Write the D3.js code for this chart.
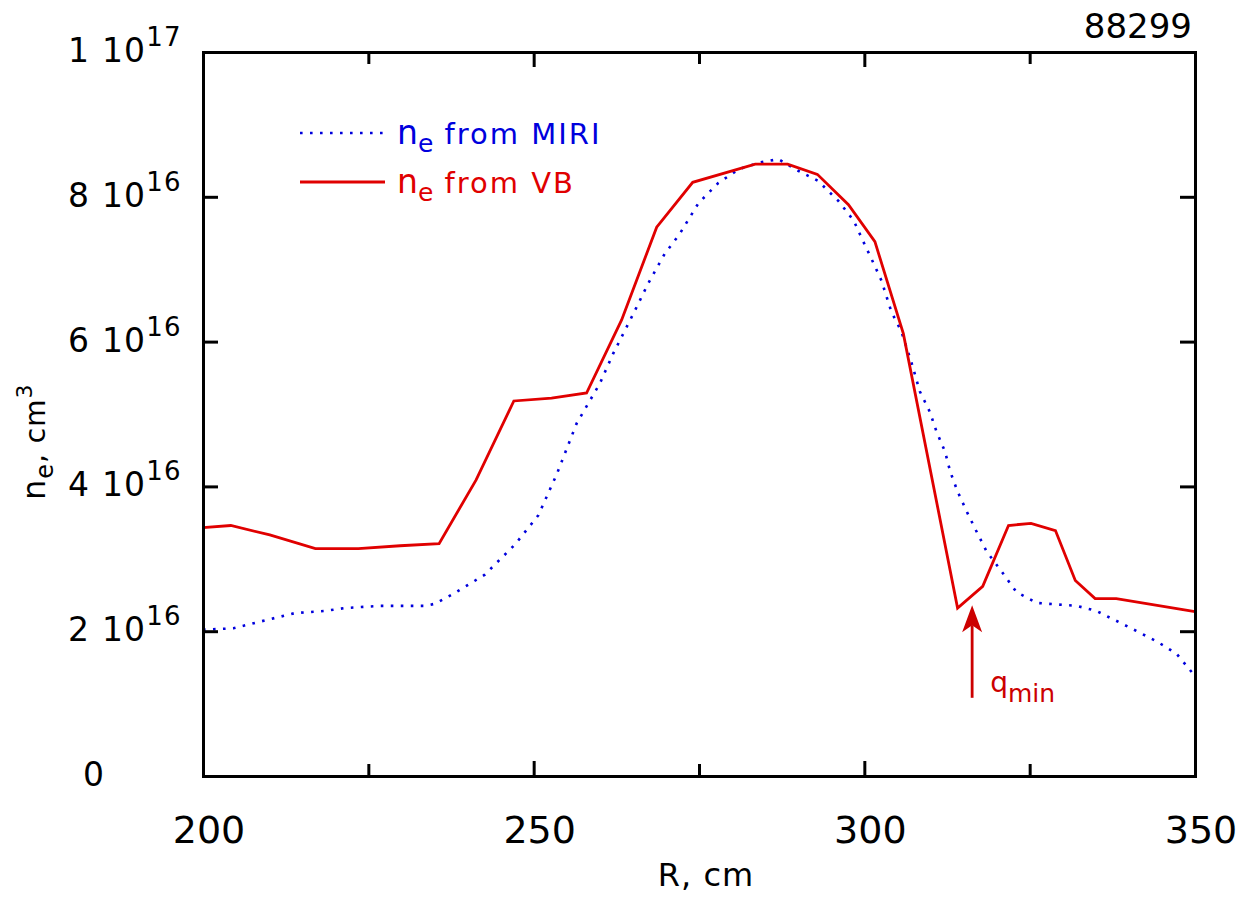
<!DOCTYPE html>
<html>
<head>
<meta charset="utf-8">
<script src="https://cdn.jsdelivr.net/npm/d3@7"></script>
<style>
  html, body { margin: 0; padding: 0; background: #fff; }
  svg text { font-family: "DejaVu Sans", Verdana, sans-serif; }
</style>
</head>
<body>
<div id="chart"></div>
<script>
// datos (R en cm, ne en unidades de 1e16 cm^-3)
let miriR = [200, 204.6, 209.4, 213.9, 218.4, 221.5, 226.8, 233.6, 235.1, 238.1, 242.6, 247.2, 250.7, 253.5, 256.5, 260.0,
    262.0, 265.1, 267.3, 269.8, 272.1, 274.9, 277.9, 281.0, 284.0, 287.0, 290.0, 293.0, 296.1, 298.4, 299.8, 301.3,
    302.6, 304.1, 305.6, 307.1, 308.4, 309.9, 310.9, 312.2, 313.0, 314.1, 315.5, 317.0, 318.5, 320.8, 323.0, 326.1,
    332.1, 335.1, 339.7, 344.2, 347.2, 350];
let miriNe = [2.02, 2.04, 2.15, 2.25, 2.28, 2.32, 2.35, 2.35, 2.38, 2.53, 2.78, 3.20, 3.60, 4.17, 4.87, 5.42,
    5.83, 6.39, 6.80, 7.21, 7.49, 7.91, 8.19, 8.38, 8.47, 8.52, 8.36, 8.22, 7.94, 7.67, 7.39, 7.10,
    6.84, 6.41, 6.14, 5.72, 5.31, 5.03, 4.76, 4.48, 4.20, 3.93, 3.65, 3.37, 3.10, 2.82, 2.54, 2.39,
    2.35, 2.28, 2.07, 1.86, 1.69, 1.38];

let vbR = [200, 204.2, 210.1, 217.0, 223.5, 229.8, 235.7, 241.3, 247.0, 252.7, 258.0, 263.3, 268.6, 274.05,
    283.5, 288.4, 292.9, 297.6, 301.6, 305.9, 314.1, 317.9, 321.8, 325.2, 328.9, 331.9, 334.9, 338.1, 350];
let vbNe = [3.43, 3.46, 3.33, 3.14, 3.14, 3.18, 3.21, 4.09, 5.18, 5.22, 5.29, 6.30, 7.58, 8.20,
    8.45, 8.45, 8.31, 7.89, 7.38, 6.11, 2.32, 2.62, 3.46, 3.49, 3.39, 2.70, 2.45, 2.45, 2.27];

let xTicks = [200, 225, 250, 275, 300, 325, 350];
let xLabels = [200, 250, 300, 350];
let yTicks = [0, 2, 4, 6, 8, 10];
let yLabels = [['0', ''], ['2 10', '16'], ['4 10', '16'], ['6 10', '16'], ['8 10', '16'], ['1 10', '17']];

// flecha q_min: R, ne de la punta y de la cola
let arrowR = 316.3, arrowTip = 2.36, arrowTail = 1.08;
let shotNumber = '88299';

let blue = '#0000dd', red = '#e00000', darkRed = '#cc0000';

let W = 1242, H = 898;
let margin = {top: 52, right: 47, bottom: 122, left: 203};

let svg = d3.select('#chart').append('svg')
    .attr('width', W).attr('height', H);

let x = d3.scaleLinear().domain([200, 350]).range([margin.left, W - margin.right]);
let y = d3.scaleLinear().domain([0, 10]).range([H - margin.bottom, margin.top]);

// lineas
let line = d3.line().x(function(d) { return x(d[0]); }).y(function(d) { return y(d[1]); });

svg.append('path')
    .datum(d3.zip(miriR, miriNe))
    .attr('d', line)
    .attr('fill', 'none')
    .attr('stroke', blue)
    .attr('stroke-width', 2.6)
    .attr('stroke-dasharray', '2.6 7.4');

svg.append('path')
    .datum(d3.zip(vbR, vbNe))
    .attr('d', line)
    .attr('fill', 'none')
    .attr('stroke', red)
    .attr('stroke-width', 2.8)
    .attr('stroke-linejoin', 'miter');

// ejes (marco con ticks hacia dentro)
let xMajor = function(d) { return d % 50 == 0 ? 15 : 12; };

svg.append('g')
    .attr('transform', 'translate(0,' + y(0) + ')')
    .call(d3.axisBottom(x).tickValues(xTicks).tickSize(0).tickFormat(''))
    .call(function(g) {
        g.selectAll('.tick line').attr('y2', function(d) { return -xMajor(d); });
    });

svg.append('g')
    .attr('transform', 'translate(0,' + y(10) + ')')
    .call(d3.axisTop(x).tickValues(xTicks).tickSize(0).tickFormat(''))
    .call(function(g) {
        g.selectAll('.tick line').attr('y2', function(d) { return xMajor(d); });
    });

svg.append('g')
    .attr('transform', 'translate(' + x(200) + ',0)')
    .call(d3.axisLeft(y).tickValues(yTicks).tickSize(-15).tickFormat(''));

svg.append('g')
    .attr('transform', 'translate(' + x(350) + ',0)')
    .call(d3.axisRight(y).tickValues(yTicks).tickSize(-15).tickFormat(''));

svg.selectAll('.domain, .tick line')
    .attr('stroke', '#000')
    .attr('stroke-width', 3)
    .attr('fill', 'none');
svg.selectAll('.domain').attr('stroke-linecap', 'square');

// etiquetas eje X
svg.append('g').selectAll('text')
    .data(xLabels)
    .enter().append('text')
    .attr('x', function(d) { return x(d) + 6; })
    .attr('y', y(0) + 67)
    .attr('text-anchor', 'middle')
    .attr('font-size', 38)
    .attr('fill', '#000')
    .text(function(d) { return d; });

// etiquetas eje Y con exponente
let yl = svg.append('g').selectAll('text')
    .data(yTicks)
    .enter().append('text')
    .attr('x', function(d) { return d == 0 ? 83 : 68; })
    .attr('y', function(d) { return y(d) + 10; })
    .attr('font-size', 33)
    .attr('letter-spacing', 1.2)
    .attr('fill', '#000');
yl.append('tspan').text(function(d, i) { return yLabels[i][0]; });
yl.append('tspan')
    .attr('font-size', 26)
    .attr('dy', -16)
    .text(function(d, i) { return yLabels[i][1]; });

// titulos
svg.append('text')
    .attr('x', 706).attr('y', 886)
    .attr('text-anchor', 'middle')
    .attr('font-size', 32)
    .attr('letter-spacing', 1)
    .attr('fill', '#000')
    .text('R, cm');

let yt = svg.append('text')
    .attr('transform', 'translate(45,500) rotate(-90)')
    .attr('font-size', 28)
    .attr('letter-spacing', 1)
    .attr('fill', '#000');
yt.append('tspan').attr('font-size', 32).text('n');
yt.append('tspan').attr('font-size', 24).attr('dy', 8).text('e');
yt.append('tspan').attr('dy', -8).text(', cm');
yt.append('tspan').attr('font-size', 22).attr('dy', -13).text('3');

svg.append('text')
    .attr('x', 1192).attr('y', 38)
    .attr('text-anchor', 'end')
    .attr('font-family', '"Liberation Sans", Arial, sans-serif')
    .attr('font-size', 34)
    .attr('fill', '#000')
    .text(shotNumber);

// leyenda
let legend = [
    {label: ' from MIRI', color: blue, dash: '2.6 7.4', width: 2.6, yy: 133, x2: 383},
    {label: ' from VB', color: red, dash: null, width: 2.8, yy: 182, x2: 385}
];
legend.forEach(function(l) {
    svg.append('line')
        .attr('x1', 300).attr('x2', l.x2)
        .attr('y1', l.yy).attr('y2', l.yy)
        .attr('stroke', l.color)
        .attr('stroke-width', l.width)
        .attr('stroke-dasharray', l.dash);
    let t = svg.append('text')
        .attr('x', 397).attr('y', l.yy + 11)
        .attr('font-size', 29)
        .attr('letter-spacing', 2)
        .attr('fill', l.color);
    t.append('tspan').attr('font-size', 33).attr('letter-spacing', 0).text('n');
    t.append('tspan').attr('font-size', 25).attr('letter-spacing', 0).attr('dy', 8).text('e');
    t.append('tspan').attr('dy', -8).text(l.label);
});

// flecha q_min
let ax = x(arrowR), ayTip = y(arrowTip), ayTail = y(arrowTail);
svg.append('line')
    .attr('x1', ax).attr('x2', ax)
    .attr('y1', ayTail).attr('y2', ayTip + 20)
    .attr('stroke', darkRed)
    .attr('stroke-width', 2.8);
svg.append('path')
    .attr('d', 'M' + ax + ',' + ayTip + ' L' + (ax - 10) + ',' + (ayTip + 27) + ' L' + ax + ',' + (ayTip + 20) +
        ' L' + (ax + 10) + ',' + (ayTip + 27) + ' Z')
    .attr('fill', darkRed);

let qt = svg.append('text')
    .attr('x', ax + 18).attr('y', ayTail - 6)
    .attr('font-size', 28)
    .attr('fill', darkRed);
qt.append('tspan').text('q');
qt.append('tspan').attr('font-size', 25).attr('dy', 10).text('min');
</script>
</body>
</html>
